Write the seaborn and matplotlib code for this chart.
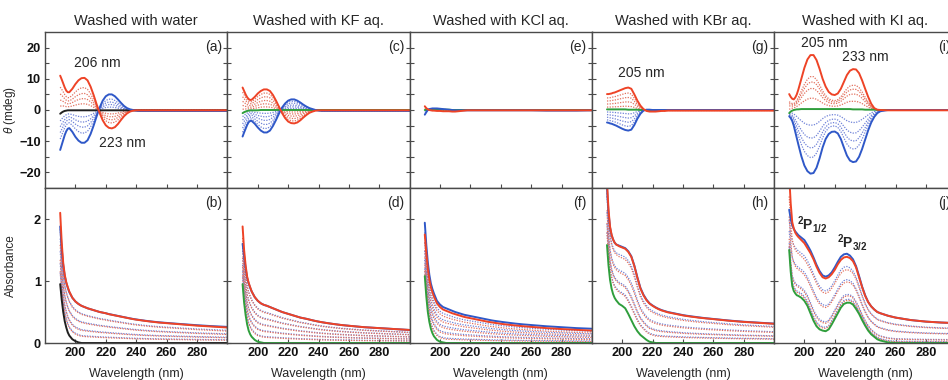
import matplotlib
matplotlib.use("Agg")
import matplotlib.pyplot as plt
import seaborn as sns
from matplotlib.ticker import FixedLocator

# ---------------------------------------------------------------- data
WAVELENGTH = [190, 191, 192, 193, 194, 195, 196, 198, 200, 202, 204, 206, 208, 210,
              212, 214, 216, 218, 220, 222, 224, 226, 228, 230, 232, 234, 236, 238,
              240, 242, 244, 246, 248, 250, 255, 260, 270, 280, 290, 300]

TITLES = ["Washed with water", "Washed with KF aq.", "Washed with KCl aq.",
          "Washed with KBr aq.", "Washed with KI aq."]
CD_LETTERS = ["(a)", "(c)", "(e)", "(g)", "(i)"]
ABS_LETTERS = ["(b)", "(d)", "(f)", "(h)", "(j)"]

# CD spectra (mdeg): solid traces of the two enantiomeric films and the neat film
CD_WATER_POS = [11.0, 9.8, 8.5, 7.2, 6.2, 5.7, 5.7, 6.8, 8.3, 9.5, 10.2, 10.3, 9.5, 7.5,
                4.8, 1.8, -1.0, -3.3, -4.9, -5.7, -5.9, -5.5, -4.5, -3.2, -2.0, -1.1, -0.5, -0.2,
                -0.1, -0.1, -0.1, -0.1, -0.1, -0.1, -0.1, -0.1, -0.1, -0.1, -0.1, -0.1]
CD_WATER_NEG = [-12.8, -11.2, -9.6, -8.0, -6.8, -6.0, -5.8, -7.0, -8.6, -9.8, -10.5, -10.5, -9.7, -7.7,
                -5.0, -2.0, 0.8, 3.0, 4.4, 5.0, 5.0, 4.4, 3.4, 2.3, 1.3, 0.6, 0.2, 0.0,
                -0.2, -0.3, -0.3, -0.3, -0.3, -0.3, -0.3, -0.3, -0.3, -0.3, -0.3, -0.3]
CD_WATER_BASE = [-1.2, -0.8, -0.5, -0.3, -0.2, -0.1, -0.1, -0.1, -0.1, -0.1, -0.1, -0.1, -0.1, -0.1,
                 -0.1, -0.1, -0.1, -0.1, -0.1, -0.1, -0.1, -0.1, -0.1, -0.1, -0.1, -0.1, -0.1, -0.1,
                 -0.1, -0.1, -0.1, -0.1, -0.1, -0.1, -0.1, -0.1, -0.1, -0.1, -0.1, -0.1]

CD_KF_POS = [7.2, 6.1, 5.0, 4.1, 3.5, 3.2, 3.3, 4.2, 5.3, 6.1, 6.6, 6.6, 6.1, 4.8,
             3.0, 1.0, -1.0, -2.6, -3.7, -4.2, -4.3, -4.0, -3.3, -2.4, -1.6, -0.9, -0.5, -0.2,
             -0.1, -0.1, -0.1, -0.1, -0.1, -0.1, -0.1, -0.1, -0.1, -0.1, -0.1, -0.1]
CD_KF_NEG = [-8.5, -7.2, -6.0, -4.8, -3.9, -3.5, -3.5, -4.4, -5.6, -6.6, -7.2, -7.2, -6.6, -5.1,
             -3.2, -1.1, 0.8, 2.1, 3.0, 3.4, 3.4, 3.0, 2.4, 1.7, 1.1, 0.6, 0.3, 0.0,
             -0.2, -0.3, -0.3, -0.3, -0.3, -0.3, -0.3, -0.3, -0.3, -0.3, -0.3, -0.3]
CD_KF_BASE = [-1.0, -0.7, -0.5, -0.3, -0.2, -0.1, -0.1, -0.1, -0.1, 0.0, 0.0, 0.0, 0.0, 0.0,
              0.0, 0.0, 0.0, 0.0, 0.0, 0.0, 0.0, 0.0, 0.0, 0.0, 0.0, 0.0, 0.0, 0.0,
              0.0, 0.0, 0.0, 0.0, 0.0, 0.0, 0.0, 0.0, 0.0, 0.0, 0.0, 0.0]

CD_KCL_POS = [1.2, 0.6, 0.2, 0.0, -0.1, -0.2, -0.2, -0.3, -0.3, -0.4, -0.4, -0.4, -0.5, -0.5,
              -0.4, -0.3, -0.2, -0.1, -0.1, -0.1, -0.1, -0.1, -0.1, -0.1, -0.1, -0.1, -0.1, -0.1,
              -0.1, -0.1, -0.1, -0.1, -0.1, -0.1, -0.1, -0.1, -0.1, -0.1, -0.1, -0.1]
CD_KCL_NEG = [-1.5, -0.7, 0.0, 0.3, 0.4, 0.5, 0.5, 0.5, 0.4, 0.3, 0.2, 0.1, 0.0, -0.1,
              -0.1, -0.1, -0.1, -0.1, -0.1, -0.1, -0.1, -0.1, -0.1, -0.1, -0.1, -0.1, -0.1, -0.1,
              -0.1, -0.1, -0.1, -0.1, -0.1, -0.1, -0.1, -0.1, -0.2, -0.2, -0.2, -0.1]
CD_KCL_BASE = [0.0, 0.0, 0.1, 0.1, 0.1, 0.1, 0.1, 0.1, 0.1, 0.1, 0.1, 0.1, 0.0, 0.0,
               0.0, 0.0, 0.0, 0.0, 0.0, 0.0, 0.0, 0.0, 0.0, 0.0, 0.0, 0.0, 0.0, 0.0,
               0.0, 0.0, 0.0, 0.0, 0.0, 0.0, 0.0, 0.0, 0.0, 0.0, 0.0, 0.0]

CD_KBR_POS = [5.1, 5.1, 5.2, 5.3, 5.5, 5.6, 5.8, 6.2, 6.6, 7.0, 7.2, 6.8, 5.0, 3.0,
              1.4, 0.3, -0.3, -0.5, -0.5, -0.5, -0.4, -0.3, -0.3, -0.2, -0.2, -0.2, -0.2, -0.2,
              -0.2, -0.2, -0.2, -0.2, -0.2, -0.2, -0.2, -0.2, -0.2, -0.2, -0.2, -0.2]
CD_KBR_NEG = [-4.0, -4.1, -4.3, -4.4, -4.6, -4.8, -5.0, -5.5, -6.0, -6.4, -6.6, -6.3, -4.8, -2.8,
              -1.2, -0.2, 0.1, 0.1, 0.0, 0.0, 0.0, 0.0, 0.0, 0.0, 0.0, 0.0, 0.0, 0.0,
              0.0, 0.0, 0.0, 0.0, 0.0, 0.0, 0.0, 0.0, 0.0, 0.0, 0.0, 0.0]
CD_KBR_BASE = [0.2, 0.2, 0.2, 0.2, 0.2, 0.2, 0.2, 0.2, 0.2, 0.2, 0.1, 0.1, 0.1, 0.1,
               0.0, 0.0, 0.0, 0.0, 0.0, 0.0, 0.0, 0.0, 0.0, 0.0, 0.0, 0.0, 0.0, 0.0,
               0.0, 0.0, 0.0, 0.0, 0.0, 0.0, 0.0, 0.0, 0.0, 0.0, 0.0, 0.0]

CD_KI_POS = [5.1, 4.2, 3.6, 3.4, 4.0, 5.0, 6.5, 10.0, 13.5, 16.2, 17.6, 17.6, 16.0, 13.2,
             10.0, 7.5, 5.8, 5.0, 4.8, 5.3, 6.8, 9.0, 11.2, 12.6, 13.1, 13.0, 11.8, 9.5,
             6.8, 4.2, 2.0, 0.6, 0.1, 0.0, -0.1, -0.1, -0.1, -0.1, -0.1, -0.1]
CD_KI_NEG = [-2.0, -2.6, -3.5, -5.0, -7.0, -9.0, -11.0, -14.8, -17.8, -19.6, -20.4, -20.2, -18.5, -15.5,
             -12.0, -9.3, -7.7, -7.0, -6.9, -7.5, -9.3, -12.0, -14.6, -16.2, -16.7, -16.5, -15.0, -12.5,
             -9.5, -6.5, -4.0, -2.2, -1.0, -0.4, 0.0, 0.0, 0.0, 0.0, 0.0, 0.0]
CD_KI_BASE = [-1.0, -0.5, -0.2, 0.0, 0.1, 0.2, 0.2, 0.3, 0.3, 0.3, 0.3, 0.3, 0.3, 0.3,
              0.3, 0.3, 0.3, 0.3, 0.3, 0.3, 0.3, 0.3, 0.3, 0.3, 0.2, 0.2, 0.2, 0.2,
              0.1, 0.1, 0.1, 0.1, 0.0, 0.0, 0.0, 0.0, 0.0, 0.0, 0.0, 0.0]

# absorbance spectra: solid traces of the two films and the neat film
ABS_WATER_POS = [2.10, 1.62, 1.29, 1.10, 0.98, 0.90, 0.83, 0.73, 0.67, 0.63, 0.60, 0.58, 0.56, 0.545,
                 0.53, 0.515, 0.50, 0.49, 0.48, 0.465, 0.455, 0.445, 0.435, 0.425, 0.415, 0.405, 0.395, 0.385,
                 0.377, 0.37, 0.363, 0.356, 0.35, 0.344, 0.33, 0.32, 0.30, 0.28, 0.265, 0.25]
ABS_WATER_NEG = [1.88, 1.52, 1.25, 1.08, 0.97, 0.89, 0.82, 0.73, 0.67, 0.63, 0.60, 0.58, 0.56, 0.545,
                 0.53, 0.515, 0.50, 0.49, 0.48, 0.467, 0.457, 0.447, 0.437, 0.427, 0.417, 0.407, 0.397, 0.388,
                 0.38, 0.373, 0.366, 0.359, 0.353, 0.347, 0.334, 0.324, 0.305, 0.287, 0.272, 0.26]
ABS_WATER_BASE = [0.95, 0.70, 0.50, 0.35, 0.25, 0.17, 0.12, 0.06, 0.03, 0.01, 0.0, 0.0, 0.0, 0.0,
                  0.0, 0.0, 0.0, 0.0, 0.0, 0.0, 0.0, 0.0, 0.0, 0.0, 0.0, 0.0, 0.0, 0.0,
                  0.0, 0.0, 0.0, 0.0, 0.0, 0.0, 0.0, 0.0, 0.0, 0.0, 0.0, 0.0]

ABS_KF_POS = [1.88, 1.50, 1.25, 1.07, 0.97, 0.90, 0.83, 0.74, 0.68, 0.64, 0.615, 0.60, 0.58, 0.56,
              0.54, 0.52, 0.50, 0.485, 0.47, 0.455, 0.44, 0.425, 0.41, 0.40, 0.39, 0.378, 0.366, 0.355,
              0.345, 0.336, 0.328, 0.32, 0.313, 0.306, 0.29, 0.278, 0.255, 0.24, 0.225, 0.21]
ABS_KF_NEG = [1.60, 1.40, 1.20, 1.05, 0.96, 0.89, 0.83, 0.74, 0.68, 0.64, 0.615, 0.60, 0.58, 0.56,
              0.54, 0.52, 0.50, 0.485, 0.47, 0.455, 0.44, 0.425, 0.41, 0.40, 0.39, 0.378, 0.366, 0.355,
              0.345, 0.336, 0.328, 0.32, 0.313, 0.306, 0.29, 0.278, 0.255, 0.24, 0.225, 0.21]
ABS_KF_BASE = [0.95, 0.65, 0.45, 0.30, 0.20, 0.14, 0.10, 0.05, 0.02, 0.01, 0.0, 0.0, 0.0, 0.0,
               0.0, 0.0, 0.0, 0.0, 0.0, 0.0, 0.0, 0.0, 0.0, 0.0, 0.0, 0.0, 0.0, 0.0,
               0.0, 0.0, 0.0, 0.0, 0.0, 0.0, 0.0, 0.0, 0.0, 0.0, 0.0, 0.0]

ABS_KCL_POS = [1.75, 1.45, 1.20, 1.02, 0.90, 0.82, 0.75, 0.64, 0.58, 0.54, 0.52, 0.50, 0.48, 0.465,
               0.45, 0.435, 0.42, 0.41, 0.40, 0.39, 0.38, 0.37, 0.36, 0.35, 0.34, 0.333, 0.325, 0.318,
               0.31, 0.304, 0.298, 0.292, 0.287, 0.282, 0.27, 0.26, 0.24, 0.225, 0.212, 0.20]
ABS_KCL_NEG = [1.94, 1.58, 1.30, 1.10, 0.96, 0.87, 0.80, 0.68, 0.62, 0.58, 0.56, 0.54, 0.52, 0.50,
               0.485, 0.47, 0.455, 0.445, 0.435, 0.425, 0.415, 0.405, 0.395, 0.385, 0.375, 0.365, 0.357, 0.35,
               0.343, 0.336, 0.33, 0.324, 0.318, 0.312, 0.30, 0.29, 0.27, 0.255, 0.24, 0.23]
ABS_KCL_BASE = [1.08, 0.75, 0.50, 0.34, 0.23, 0.16, 0.11, 0.05, 0.02, 0.01, 0.0, 0.0, 0.0, 0.0,
                0.0, 0.0, 0.0, 0.0, 0.0, 0.0, 0.0, 0.0, 0.0, 0.0, 0.0, 0.0, 0.0, 0.0,
                0.0, 0.0, 0.0, 0.0, 0.0, 0.0, 0.0, 0.0, 0.0, 0.0, 0.0, 0.0]

ABS_KBR_POS = [2.60, 2.15, 1.88, 1.75, 1.67, 1.62, 1.59, 1.56, 1.54, 1.52, 1.47, 1.39, 1.24, 1.05,
               0.88, 0.77, 0.69, 0.635, 0.60, 0.57, 0.545, 0.525, 0.51, 0.495, 0.485, 0.475, 0.465, 0.455,
               0.445, 0.437, 0.43, 0.423, 0.417, 0.41, 0.397, 0.385, 0.36, 0.34, 0.325, 0.31]
ABS_KBR_NEG = [2.50, 2.10, 1.86, 1.74, 1.67, 1.62, 1.59, 1.57, 1.55, 1.53, 1.48, 1.40, 1.25, 1.06,
               0.89, 0.78, 0.70, 0.64, 0.605, 0.575, 0.55, 0.53, 0.515, 0.50, 0.49, 0.48, 0.47, 0.46,
               0.45, 0.442, 0.435, 0.428, 0.422, 0.415, 0.40, 0.388, 0.363, 0.343, 0.328, 0.313]
ABS_KBR_BASE = [1.58, 1.25, 1.02, 0.88, 0.79, 0.73, 0.69, 0.63, 0.60, 0.56, 0.47, 0.37, 0.27, 0.19,
                0.13, 0.09, 0.05, 0.02, 0.01, 0.0, 0.0, 0.0, 0.0, 0.0, 0.0, 0.0, 0.0, 0.0,
                0.0, 0.0, 0.0, 0.0, 0.0, 0.0, 0.0, 0.0, 0.0, 0.0, 0.0, 0.0]

ABS_KI_POS = [2.70, 2.25, 1.95, 1.85, 1.78, 1.74, 1.71, 1.66, 1.61, 1.53, 1.45, 1.35, 1.23, 1.13,
              1.06, 1.04, 1.06, 1.11, 1.18, 1.27, 1.34, 1.38, 1.39, 1.37, 1.32, 1.22, 1.06, 0.90,
              0.76, 0.66, 0.59, 0.54, 0.50, 0.48, 0.44, 0.41, 0.37, 0.345, 0.33, 0.32]
ABS_KI_NEG = [2.15, 2.00, 1.90, 1.84, 1.80, 1.77, 1.74, 1.70, 1.66, 1.58, 1.49, 1.38, 1.26, 1.16,
              1.09, 1.07, 1.09, 1.14, 1.22, 1.31, 1.39, 1.43, 1.44, 1.41, 1.35, 1.24, 1.08, 0.91,
              0.77, 0.66, 0.59, 0.54, 0.50, 0.48, 0.44, 0.41, 0.37, 0.345, 0.33, 0.32]
ABS_KI_BASE = [1.50, 1.15, 0.92, 0.84, 0.80, 0.77, 0.76, 0.73, 0.68, 0.60, 0.48, 0.36, 0.27, 0.22,
               0.20, 0.19, 0.22, 0.30, 0.39, 0.48, 0.57, 0.63, 0.65, 0.65, 0.62, 0.55, 0.47, 0.37,
               0.28, 0.20, 0.14, 0.10, 0.06, 0.04, 0.01, 0.0, 0.0, 0.0, 0.0, 0.0]

# fractions of the full trace carried by the dotted intermediate traces
CD_LEVELS_POS = [[0.70, 0.52, 0.36, 0.20], [0.82, 0.64, 0.46, 0.30, 0.15], [0.5],
                 [0.75, 0.55, 0.35, 0.15], [0.60, 0.50, 0.38, 0.20]]
CD_LEVELS_NEG = [[0.70, 0.52, 0.36, 0.20], [0.82, 0.64, 0.46, 0.30, 0.15], [0.5],
                 [0.80, 0.60, 0.40, 0.20], [0.75, 0.60, 0.45, 0.25]]
ABS_LEVELS_POS = [[0.77, 0.55, 0.34, 0.18], [0.80, 0.63, 0.46, 0.30, 0.15],
                  [0.80, 0.62, 0.45, 0.28, 0.12], [0.82, 0.55, 0.35, 0.20],
                  [0.72, 0.45, 0.15, 0.05]]
ABS_LEVELS_NEG = [[0.79, 0.57, 0.36, 0.20], [0.82, 0.65, 0.48, 0.32, 0.17],
                  [0.82, 0.64, 0.47, 0.30, 0.14], [0.85, 0.58, 0.37, 0.22],
                  [0.74, 0.47, 0.17, 0.07]]

CD_POS = [CD_WATER_POS, CD_KF_POS, CD_KCL_POS, CD_KBR_POS, CD_KI_POS]
CD_NEG = [CD_WATER_NEG, CD_KF_NEG, CD_KCL_NEG, CD_KBR_NEG, CD_KI_NEG]
CD_BASE = [CD_WATER_BASE, CD_KF_BASE, CD_KCL_BASE, CD_KBR_BASE, CD_KI_BASE]
ABS_POS = [ABS_WATER_POS, ABS_KF_POS, ABS_KCL_POS, ABS_KBR_POS, ABS_KI_POS]
ABS_NEG = [ABS_WATER_NEG, ABS_KF_NEG, ABS_KCL_NEG, ABS_KBR_NEG, ABS_KI_NEG]
ABS_BASE = [ABS_WATER_BASE, ABS_KF_BASE, ABS_KCL_BASE, ABS_KBR_BASE, ABS_KI_BASE]

# ---------------------------------------------------------------- style
sns.set_theme(style="ticks")
plt.rcParams["font.family"] = ["Liberation Sans", "DejaVu Sans"]
plt.rcParams["mathtext.fontset"] = "custom"
plt.rcParams["mathtext.it"] = "Liberation Sans:italic"
plt.rcParams["mathtext.rm"] = "Liberation Sans"
plt.rcParams["mathtext.bf"] = "Liberation Sans:bold"

RED = "#ee4326"
BLUE = "#2f58c8"
GREEN = "#2f9e3c"
BLACK = "#202020"
RED_DOT = "#e2705e"
BLUE_DOT = "#6f82d8"
SPINE = "#4a4a4a"
DOT = (0, (1.0, 1.1))

fig = plt.figure(figsize=(9.48, 3.80), dpi=100)
W, H = 948.0, 380.0
lefts = [45.0, 227.4, 409.6, 591.8, 774.0]
width = 182.3
top_axes, bot_axes = [], []
for lx in lefts:
    top_axes.append(fig.add_axes([lx / W, 1 - 188.0 / H, width / W, 156.0 / H]))
    bot_axes.append(fig.add_axes([lx / W, 1 - 343.0 / H, width / W, 155.0 / H]))


def blend(full, base, t):
    return [t * f + (1 - t) * b for f, b in zip(full, base)]


def trace(ax, y, color, lw, ls="-"):
    sns.lineplot(x=WAVELENGTH, y=y, ax=ax, color=color, linewidth=lw,
                 linestyle=ls, estimator=None, sort=False)


for i in range(5):
    ax = top_axes[i]
    for t in CD_LEVELS_POS[i]:
        trace(ax, blend(CD_POS[i], CD_BASE[i], t), RED_DOT, 0.9, DOT)
    for t in CD_LEVELS_NEG[i]:
        trace(ax, blend(CD_NEG[i], CD_BASE[i], t), BLUE_DOT, 0.9, DOT)
    trace(ax, CD_BASE[i], BLACK if i == 0 else GREEN, 1.4)
    trace(ax, CD_NEG[i], BLUE, 1.4)
    trace(ax, CD_POS[i], RED, 1.4)

    ax = bot_axes[i]
    for tp, tn in zip(ABS_LEVELS_POS[i], ABS_LEVELS_NEG[i]):
        trace(ax, blend(ABS_NEG[i], ABS_BASE[i], tn), BLUE_DOT, 0.9, DOT)
        trace(ax, blend(ABS_POS[i], ABS_BASE[i], tp), RED_DOT, 0.9, DOT)
    trace(ax, ABS_BASE[i], BLACK if i == 0 else GREEN, 1.4)
    trace(ax, ABS_NEG[i], BLUE, 1.4)
    trace(ax, ABS_POS[i], RED, 1.4)

for i in range(5):
    for ax, row in ((top_axes[i], 0), (bot_axes[i], 1)):
        ax.set_xlim(180, 300)
        ax.xaxis.set_major_locator(FixedLocator([200, 220, 240, 260, 280]))
        ax.set_xlabel("")
        ax.set_ylabel("")
        for sp in ax.spines.values():
            sp.set_visible(True)
            sp.set_color(SPINE)
            sp.set_linewidth(1.0)
        ax.tick_params(which="both", direction="in", length=3, width=0.8,
                       color=SPINE, left=True, right=True, top=False, bottom=True,
                       labelsize=9.2, labelcolor="#111111", pad=3)
        if row == 0:
            ax.set_ylim(-25, 25)
            ax.yaxis.set_major_locator(FixedLocator([-20, -10, 0, 10, 20]))
            ax.yaxis.set_minor_locator(FixedLocator([-15, -5, 5, 15]))
            ax.tick_params(labelbottom=False)
        else:
            ax.set_ylim(0, 2.5)
            ax.yaxis.set_major_locator(FixedLocator([0, 1, 2]))
            ax.set_xlabel("Wavelength (nm)", fontsize=9, labelpad=6)
        if i > 0:
            ax.tick_params(labelleft=False)

    top_axes[i].set_title(TITLES[i], fontsize=10.5, pad=5)
    top_axes[i].text(0.97, 0.95, CD_LETTERS[i], transform=top_axes[i].transAxes,
                     ha="right", va="top", fontsize=10)
    bot_axes[i].text(0.97, 0.95, ABS_LETTERS[i], transform=bot_axes[i].transAxes,
                     ha="right", va="top", fontsize=10)

for ax in top_axes + bot_axes:
    for lab in ax.get_xticklabels() + ax.get_yticklabels():
        lab.set_fontweight("bold")

top_axes[0].set_ylabel(r"$\it{\theta}$ (mdeg)", fontsize=8.5)
top_axes[0].yaxis.set_label_coords(-0.15, 0.5)
bot_axes[0].set_ylabel("Absorbance", fontsize=8.5)
bot_axes[0].yaxis.set_label_coords(-0.155, 0.5)

# peak annotations
top_axes[0].text(214.5, 15.0, "206 nm", ha="center", va="center", fontsize=10)
top_axes[0].text(231.0, -10.6, "223 nm", ha="center", va="center", fontsize=10)
top_axes[3].text(212.8, 12.0, "205 nm", ha="center", va="center", fontsize=10)
top_axes[4].text(213.0, 21.4, "205 nm", ha="center", va="center", fontsize=10)
top_axes[4].text(240.3, 17.1, "233 nm", ha="center", va="center", fontsize=10)
bot_axes[4].text(205.3, 1.91, r"$^{\mathbf{2}}$P$_{\mathbf{1/2}}$", ha="center", va="center",
                 fontsize=10, fontweight="bold")
bot_axes[4].text(231.8, 1.62, r"$^{\mathbf{2}}$P$_{\mathbf{3/2}}$", ha="center", va="center",
                 fontsize=10, fontweight="bold")

fig.savefig("out.png", dpi=100)
